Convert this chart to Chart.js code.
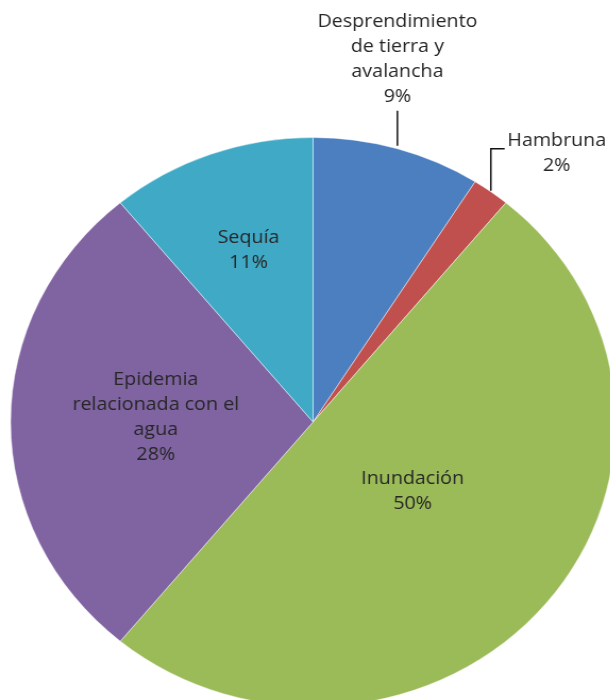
<!DOCTYPE html>
<html lang="es">
  <head>
    <meta charset="UTF-8" />
    <title>Desastres relacionados con el agua</title>
    <script src="https://cdn.jsdelivr.net/npm/chart.js"></script>
    <style>
      html,
      body {
        margin: 0;
        padding: 0;
        background: #fff;
        overflow: hidden;
      }
      #frame {
        width: 610px;
        height: 700px;
        overflow: hidden;
      }
      #chart {
        width: 589px;
        height: 844px;
        transform: scaleX(1.063);
        transform-origin: 0 0;
      }
    </style>
  </head>
  <body>
    <div id="frame">
      <div id="chart">
        <canvas id="pieChart"></canvas>
      </div>
    </div>

    <script>
      const labels = [
        ["Desprendimiento", "de tierra y", "avalancha"],
        ["Hambruna"],
        ["Inundación"],
        ["Epidemia", "relacionada con el", "agua"],
        ["Sequía"],
      ];
      const values = [9, 2, 50, 28, 11];
      const colors = ["#4B7FC0", "#C0504D", "#9BBB59", "#8064A2", "#40AAC6"];

      // how each label is placed
      const placement = [
        { type: "up" },
        { type: "elbow" },
        { type: "inside", f: 0.4, dx: 6, dy: -3 },
        { type: "inside", f: 0.52, dx: 0, dy: -5 },
        { type: "inside", f: 0.63, dx: 0, dy: -3 },
      ];

      const lineH = 25;
      const font = "18.5px 'Open Sans'";

      const pieLabels = {
        id: "pieLabels",
        afterDatasetsDraw(chart) {
          const ctx = chart.ctx;
          const meta = chart.getDatasetMeta(0);
          const total = values.reduce((a, b) => a + b, 0);
          ctx.save();
          ctx.font = font;
          ctx.fillStyle = "#262626";
          ctx.strokeStyle = "#111";
          ctx.lineWidth = 1.5;
          ctx.textAlign = "center";
          ctx.textBaseline = "middle";

          meta.data.forEach((arc, i) => {
            const p = arc.getProps(["x", "y", "startAngle", "endAngle", "outerRadius"], true);
            const mid = (p.startAngle + p.endAngle) / 2;
            const lines = labels[i].concat([Math.round((values[i] / total) * 100) + "%"]);
            const pl = placement[i];

            if (pl.type === "inside") {
              const cx = p.x + Math.cos(mid) * p.outerRadius * pl.f + pl.dx;
              const cy = p.y + Math.sin(mid) * p.outerRadius * pl.f + pl.dy;
              const top = cy - ((lines.length - 1) * lineH) / 2;
              lines.forEach((t, k) => ctx.fillText(t, cx, top + k * lineH));
            } else {
              const ex = p.x + Math.cos(mid) * p.outerRadius;
              const ey = p.y + Math.sin(mid) * p.outerRadius;
              if (pl.type === "up") {
                ctx.beginPath();
                ctx.moveTo(ex, ey - 3);
                ctx.lineTo(ex, ey - 38);
                ctx.stroke();
                const bottom = ey - 52;
                lines.forEach((t, k) =>
                  ctx.fillText(t, ex, bottom - (lines.length - 1 - k) * lineH)
                );
              } else {
                const ly = ey - 43;
                ctx.beginPath();
                ctx.moveTo(ex, ey - 1);
                ctx.lineTo(ex, ly);
                ctx.lineTo(ex + 13, ly);
                ctx.stroke();
                const tx = ex + 62;
                lines.forEach((t, k) => ctx.fillText(t, tx, ly - 8 + k * lineH));
              }
            }
          });
          ctx.restore();
        },
      };

      new Chart(document.getElementById("pieChart"), {
        type: "pie",
        data: {
          labels: labels,
          datasets: [
            {
              data: values,
              backgroundColor: colors,
              borderColor: "rgba(255,255,255,0.45)",
              borderWidth: 1,
            },
          ],
        },
        options: {
          responsive: true,
          maintainAspectRatio: false,
          animation: false,
          layout: { padding: { left: 9.5, right: 9.5, top: 0, bottom: 0 } },
          plugins: {
            legend: { display: false },
            tooltip: { enabled: false },
          },
        },
        plugins: [pieLabels],
      });
    </script>
  </body>
</html>
